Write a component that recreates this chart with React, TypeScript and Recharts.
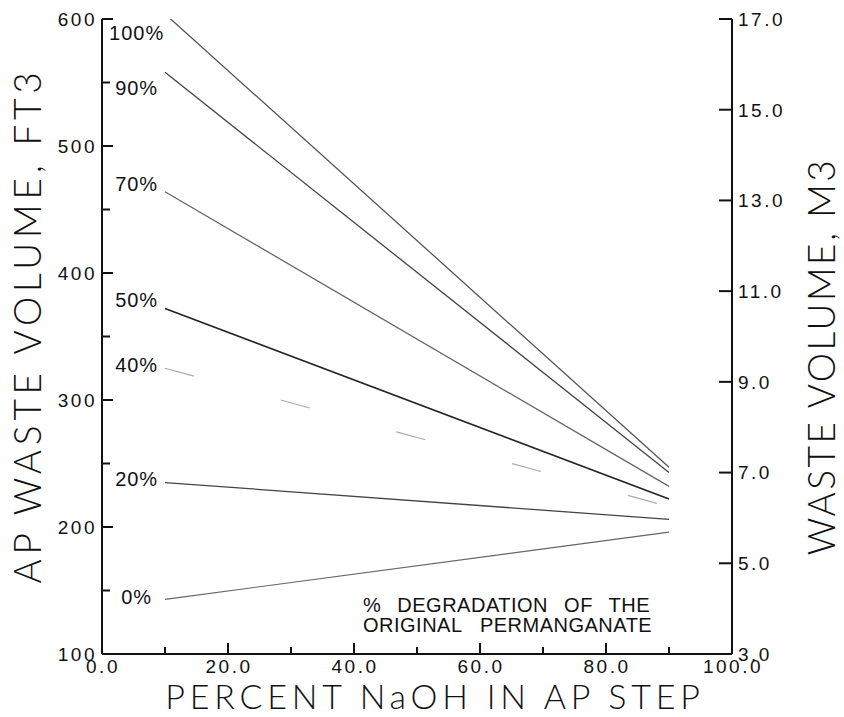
import React from 'react'
import { LineChart, Line, XAxis, YAxis, Label, ReferenceDot } from 'recharts'

// percent NaOH in AP step (x) — each curve is read at both ends
const naohPct = [10, 90]

// AP waste volume, ft3, per % degradation of the original permanganate
const deg100 = [604, 247]
const deg90 = [558, 243]
const deg70 = [464, 232]
const deg50 = [372, 222]
const deg40 = [325, 216]
const deg20 = [235, 206]
const deg0 = [143, 196]

const seriesNames = ['100%', '90%', '70%', '50%', '40%', '20%', '0%']
const seriesKeys = ['d100', 'd90', 'd70', 'd50', 'd40', 'd20', 'd0']
const seriesValues = [deg100, deg90, deg70, deg50, deg40, deg20, deg0]

// where the "xx%" tags sit (x in % NaOH, y in ft3)
const tagX = 5.5
const tagY = [589, 546, 470, 379, 328, 238, 145]

const xTicks = [0, 10, 20, 30, 40, 50, 60, 70, 80, 90, 100]
const ft3Ticks = [100, 150, 200, 250, 300, 350, 400, 450, 500, 550, 600]
const m3Ticks = [3, 5, 7, 9, 11, 13, 15, 17]

const rows = naohPct.map((x, i) => {
  const r: Record<string, number> = { x }
  seriesKeys.forEach((k, j) => { r[k] = seriesValues[j][i] })
  return r
})

const INK = '#111'
const FONT = '"Liberation Sans", Arial, Helvetica, sans-serif'
const TITLE_FONT = 'Lato, "Liberation Sans", Arial, sans-serif'

const lineStyle: Record<string, { stroke: string; width: number; dash?: string }> = {
  d100: { stroke: '#555', width: 1.3 },
  d90: { stroke: '#444', width: 1.3 },
  d70: { stroke: '#666', width: 1.3 },
  d50: { stroke: '#222', width: 1.6 },
  d40: { stroke: '#aaa', width: 1.2, dash: '30 90' },
  d20: { stroke: '#444', width: 1.3 },
  d0: { stroke: '#666', width: 1.2 },
}

function XTick(props: any) {
  const { x, y, payload } = props
  const v = payload.value as number
  const major = v % 20 === 0
  return (
    <g>
      <line x1={x} x2={x} y1={y} y2={y - (major ? 11 : 7)} stroke={INK} strokeWidth={2} />
      {major && (
        <text x={x + 1} y={y + 12} dy="0.36em" textAnchor="middle" fontSize={19}
          letterSpacing={2.5} fontFamily={FONT} fill={INK}>
          {v.toFixed(1)}
        </text>
      )}
    </g>
  )
}

function LeftTick(props: any) {
  const { x, y, payload } = props
  const v = payload.value as number
  const major = v % 100 === 0
  return (
    <g>
      <line x1={x} x2={x + (major ? 11 : 8)} y1={y} y2={y} stroke={INK} strokeWidth={2} />
      {major && (
        <text x={x - 5} y={y} dy="0.36em" textAnchor="end" fontSize={19}
          letterSpacing={2.5} fontFamily={FONT} fill={INK}>
          {v}
        </text>
      )}
    </g>
  )
}

function RightTick(props: any) {
  const { x, y, payload } = props
  const v = payload.value as number
  return (
    <g>
      <line x1={x} x2={x - 13} y1={y} y2={y} stroke={INK} strokeWidth={2} />
      <text x={x + 6} y={y} dy="0.36em" textAnchor="start" fontSize={19}
        letterSpacing={2.5} fontFamily={FONT} fill={INK}>
        {v.toFixed(1)}
      </text>
    </g>
  )
}

const titleProps = { fontFamily: TITLE_FONT, fontWeight: 300, fill: INK, textAnchor: 'middle' as const }

function XTitle(props: any) {
  const vb = props.viewBox
  const cx = vb.x + vb.width / 2 + 18
  return (
    <text x={cx} y={vb.y + 43} dy="0.36em" fontSize={34} letterSpacing={4.8} {...titleProps}>
      PERCENT NaOH IN AP STEP
    </text>
  )
}

function LeftTitle(props: any) {
  const vb = props.viewBox
  const cx = vb.x + 28
  const cy = vb.y + vb.height / 2 - 11
  return (
    <text x={cx} y={cy} dy="0.36em" fontSize={37} letterSpacing={4.8}
      transform={`rotate(-90 ${cx} ${cy})`} {...titleProps}>
      AP WASTE VOLUME, FT3
    </text>
  )
}

function RightTitle(props: any) {
  const vb = props.viewBox
  const cx = vb.x + 90
  const cy = vb.y + vb.height / 2 + 20
  return (
    <text x={cx} y={cy} dy="0.36em" fontSize={37} letterSpacing={2.5}
      transform={`rotate(-90 ${cx} ${cy})`} {...titleProps}>
      WASTE VOLUME, M3
    </text>
  )
}

function Tag(props: any) {
  const vb = props.viewBox
  const cx = vb.x + vb.width / 2
  const cy = vb.y + vb.height / 2
  return (
    <text x={cx} y={cy} dy="0.36em" textAnchor="middle" fontSize={20}
      letterSpacing={1} fontFamily={FONT} fill={INK}>
      {props.value}
    </text>
  )
}

export default function App() {
  return (
    <div style={{ position: 'absolute', left: 0, top: 0, width: 844, height: 717, background: '#fff' }}>
      <LineChart width={844} height={717} data={rows} margin={{ top: 19, right: 0, bottom: 0, left: 0 }}>
        <XAxis dataKey="x" type="number" domain={[0, 100]} ticks={xTicks} interval={0}
          height={63} tickSize={0} tickMargin={0} tickLine={false} tick={<XTick />}
          axisLine={{ stroke: INK, strokeWidth: 2 }}>
          <Label content={<XTitle />} />
        </XAxis>
        <YAxis yAxisId="ft3" type="number" domain={[100, 600]} allowDataOverflow ticks={ft3Ticks}
          interval={0} width={102} tickSize={0} tickMargin={0} tickLine={false} tick={<LeftTick />}
          axisLine={{ stroke: INK, strokeWidth: 2 }}>
          <Label content={<LeftTitle />} />
        </YAxis>
        <YAxis yAxisId="m3" orientation="right" type="number" domain={[3, 17]} allowDataOverflow
          ticks={m3Ticks} interval={0} width={112} tickSize={0} tickMargin={0} tickLine={false}
          tick={<RightTick />} axisLine={{ stroke: INK, strokeWidth: 2 }}>
          <Label content={<RightTitle />} />
        </YAxis>
        {seriesKeys.map((k) => (
          <Line key={k} yAxisId="ft3" dataKey={k} type="linear" dot={false}
            stroke={lineStyle[k].stroke} strokeWidth={lineStyle[k].width}
            strokeDasharray={lineStyle[k].dash} isAnimationActive={false} />
        ))}
        {seriesNames.map((name, i) => (
          <ReferenceDot key={name} yAxisId="ft3" x={tagX} y={tagY[i]} r={0}
            fill="none" stroke="none" label={<Tag value={name} />} />
        ))}
      </LineChart>
      <svg width={844} height={717} style={{ position: 'absolute', left: 0, top: 0, pointerEvents: 'none' }}>
        <text x={363} y={612} fontSize={20} letterSpacing={0.5} wordSpacing={10}
          fontFamily={FONT} fill={INK}>
          % DEGRADATION OF THE
        </text>
        <text x={363} y={632} fontSize={20} letterSpacing={0.5} wordSpacing={12}
          fontFamily={FONT} fill={INK}>
          ORIGINAL PERMANGANATE
        </text>
      </svg>
    </div>
  )
}
